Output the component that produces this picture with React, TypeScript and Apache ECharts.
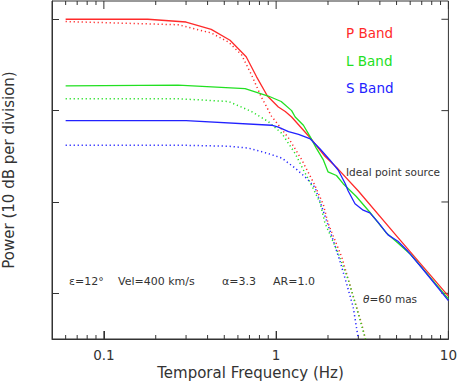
import React, { useEffect, useRef } from "react";
import * as echarts from "echarts";

// [frequency (Hz), power (dB)]
const pBandSolid: [number, number][] = [
  [0.06, 35.0], [0.18, 35.0], [0.3, 34.7], [0.42, 33.9], [0.54, 32.7], [0.67, 30.9],
  [0.77, 28.7], [0.89, 26.6], [1.03, 25.4], [1.13, 24.9], [1.23, 24.3], [1.58, 22.0],
  [1.92, 20.0], [2.29, 18.6], [3.0, 16.2], [5.1, 11.1], [10, 4.7],
];
const lBandSolid: [number, number][] = [
  [0.06, 27.7], [0.27, 27.8], [0.66, 27.4], [0.9, 26.6], [1.07, 26.0], [1.23, 25.0],
  [1.29, 24.3], [1.44, 23.4], [1.58, 22.1], [1.71, 20.9], [1.88, 19.6], [2.0, 18.3],
  [2.24, 17.9], [2.45, 17.0], [2.92, 15.6], [3.49, 13.9], [4.37, 11.6], [5.09, 10.5],
  [6.08, 9.2], [10, 4.4],
];
const sBandSolid: [number, number][] = [
  [0.06, 23.9], [0.3, 23.9], [0.94, 23.4], [1.03, 23.2], [1.18, 22.7], [1.35, 22.4],
  [1.58, 21.9], [1.8, 20.8], [2.05, 19.6], [2.29, 18.5], [2.52, 17.0], [2.62, 16.2],
  [2.87, 14.8], [3.2, 14.1], [3.5, 13.8], [3.9, 12.8], [4.46, 11.4], [5.09, 10.7],
  [5.82, 9.6], [7.0, 7.8], [10, 4.2],
];
const pBandDotted: [number, number][] = [
  [0.06, 34.75], [0.27, 34.4], [0.42, 33.5], [0.53, 32.5], [0.63, 31.1], [0.72, 28.9],
  [0.82, 26.5], [0.94, 24.4], [1.18, 22.0], [1.41, 19.6], [1.66, 17.0], [1.88, 14.7],
  [2.0, 12.7], [2.4, 9.0], [2.73, 5.4], [3.13, 1.7], [3.3, 0],
];
const lBandDotted: [number, number][] = [
  [0.06, 26.3], [0.27, 26.3], [0.53, 26.0], [0.72, 24.9], [0.9, 23.8], [1.08, 22.5],
  [1.29, 20.3], [1.44, 18.5], [1.62, 16.7], [1.8, 14.9], [1.92, 12.7], [2.29, 9.4],
  [2.62, 6.5], [2.92, 3.5], [3.3, 0],
];
const sBandDotted: [number, number][] = [
  [0.06, 21.2], [0.3, 21.2], [0.53, 21.1], [0.69, 20.9], [0.9, 20.3], [1.08, 19.8],
  [1.29, 18.7], [1.5, 17.6], [1.68, 16.6], [1.84, 14.5], [2.05, 11.9], [2.34, 8.6],
  [2.56, 6.1], [2.8, 3.5], [3.0, 0],
];

const xMajorTicks = [0.1, 1, 10];
const xMinorTicks = [0.06, 0.07, 0.08, 0.09, 0.2, 0.3, 0.4, 0.5, 0.6, 0.7, 0.8, 0.9, 2, 3, 4, 5, 6, 7, 8, 9];
const yTicks = [5, 15, 25, 35];
const bandNames = ["P Band", "L Band", "S Band"];
const bandColors = ["#ff2a2a", "#22e022", "#2222ff"];

const X_MIN = 0.05;
const X_MAX = 10;
const Y_MIN = 0;
const Y_MAX = 37;
const FONT = "DejaVu Sans";
const AXIS = "#333";
const TEXT = "#333";

export default function App() {
  const ref = useRef<HTMLDivElement>(null);
  useEffect(() => {
    if (!ref.current) return;
    const chart = echarts.init(ref.current, null, { renderer: "svg" });

    // tick marks drawn through the axes' scales (edge: which side of the frame)
    const tickMarks = (points: [number, number][], edge: "bottom" | "top" | "right", len: number) => ({
      type: "custom",
      data: points,
      renderItem: (_p: any, api: any) => {
        const c = api.coord([api.value(0), api.value(1)]);
        if (edge === "bottom") {
          return { type: "rect", shape: { x: c[0] - 0.5, y: c[1] - len, width: 1, height: len }, style: { fill: AXIS } };
        }
        if (edge === "top") {
          return { type: "rect", shape: { x: c[0] - 0.5, y: c[1], width: 1, height: len }, style: { fill: AXIS } };
        }
        return { type: "rect", shape: { x: c[0] - len, y: c[1] - 0.5, width: len, height: 1 }, style: { fill: AXIS } };
      },
    });
    const line = (data: [number, number][], color: string, dotted: boolean) => ({
      type: "line",
      data,
      showSymbol: false,
      smooth: false,
      lineStyle: dotted
        ? { color, width: 1.5, type: [1.2, 2.8] }
        : { color, width: 1.3, type: "solid" },
    });
    chart.setOption({
      animation: false,
      grid: {
        left: 52, right: 10, top: 1, bottom: 43,
        show: true, borderColor: AXIS, borderWidth: 1, backgroundColor: "transparent",
      },
      xAxis: [
        {
          type: "log", min: X_MIN, max: X_MAX, position: "bottom",
          splitLine: { show: false },
          axisLine: { show: true, onZero: false, lineStyle: { color: AXIS, width: 1 } },
          axisTick: { show: true, inside: true, length: 8, customValues: xMajorTicks, lineStyle: { color: AXIS, width: 1 } },
          axisLabel: {
            show: true, customValues: xMajorTicks, margin: 9, color: TEXT,
            fontFamily: FONT, fontSize: 13.5, formatter: (v: number) => String(v),
          },
        },
      ],
      yAxis: [
        {
          type: "value", min: Y_MIN, max: Y_MAX,
          splitLine: { show: false },
          axisLine: { show: true, lineStyle: { color: AXIS, width: 1 } },
          axisTick: { show: true, inside: true, length: 7, customValues: yTicks, lineStyle: { color: AXIS } },
          axisLabel: { show: false },
        },
      ],
      series: [
        tickMarks(xMajorTicks.map((v) => [v, Y_MIN] as [number, number]), "bottom", 8),
        tickMarks(xMajorTicks.map((v) => [v, Y_MAX] as [number, number]), "top", 8),
        tickMarks(xMinorTicks.map((v) => [v, Y_MIN] as [number, number]), "bottom", 4),
        tickMarks(xMinorTicks.map((v) => [v, Y_MAX] as [number, number]), "top", 4),
        tickMarks(yTicks.map((v) => [X_MAX, v] as [number, number]), "right", 7),
        line(pBandDotted, bandColors[0], true),
        line(lBandDotted, bandColors[1], true),
        line(sBandDotted, bandColors[2], true),
        line(pBandSolid, bandColors[0], false),
        line(lBandSolid, bandColors[1], false),
        line(sBandSolid, bandColors[2], false),
      ],
      graphic: [
        ...bandNames.map((name, i) => ({
          type: "text", x: 346, y: 33 + i * 27.6,
          style: { text: name, fill: bandColors[i], font: `13.5px ${FONT}`, textVerticalAlign: "middle" },
        })),
        {
          type: "text", x: 346, y: 172,
          style: { text: "Ideal point source", fill: TEXT, font: `10.5px ${FONT}`, textVerticalAlign: "middle" },
        },
        {
          type: "text", x: 69, y: 281,
          style: { text: "ε=12°", fill: TEXT, font: `11px ${FONT}`, textVerticalAlign: "middle" },
        },
        {
          type: "text", x: 118, y: 281,
          style: { text: "Vel=400 km/s", fill: TEXT, font: `11px ${FONT}`, textVerticalAlign: "middle" },
        },
        {
          type: "text", x: 222, y: 281,
          style: { text: "α=3.3", fill: TEXT, font: `11px ${FONT}`, textVerticalAlign: "middle" },
        },
        {
          type: "text", x: 273, y: 281,
          style: { text: "AR=1.0", fill: TEXT, font: `11px ${FONT}`, textVerticalAlign: "middle" },
        },
        {
          type: "text", x: 363, y: 299,
          style: {
            text: "{i|θ}=60 mas", fill: TEXT, font: `10.5px ${FONT}`, textVerticalAlign: "middle",
            rich: { i: { fontStyle: "italic", fontFamily: FONT, fontSize: 10.5, fill: TEXT } },
          },
        },
        {
          type: "text", x: 250.5, y: 373,
          style: { text: "Temporal Frequency (Hz)", fill: TEXT, font: `15px ${FONT}`, textAlign: "center", textVerticalAlign: "middle" },
        },
        {
          type: "text", x: 9, y: 170, rotation: Math.PI / 2,
          style: { text: "Power (10 dB per division)", fill: TEXT, font: `15px ${FONT}`, textAlign: "center", textVerticalAlign: "middle" },
        },
      ],
    });
    return () => chart.dispose();
  }, []);
  return (
    <div
      ref={ref}
      style={{ position: "fixed", left: 0, top: 0, width: 460, height: 382, background: "#fff" }}
    />
  );
}
